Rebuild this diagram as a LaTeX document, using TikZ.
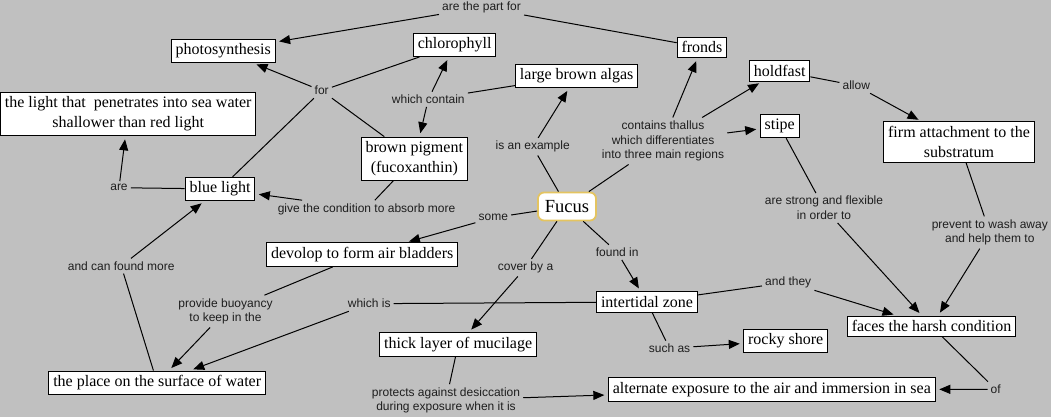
\documentclass[tikz,border=0pt]{standalone}
\usepackage{fontspec}
\setmainfont{Liberation Serif}
\newfontfamily\lblfont{Liberation Sans}
\usetikzlibrary{arrows.meta}
\definecolor{bggray}{RGB}{192,192,192}
\definecolor{lbltext}{RGB}{30,30,30}
\definecolor{fucusgold}{RGB}{228,196,96}
\begin{document}
\begin{tikzpicture}[x=1pt,y=-1pt,
  concept/.style={draw=black, fill=white, line width=1pt, inner xsep=4.4pt, inner ysep=4.4pt,
    font=\fontsize{16}{19.8}\selectfont, align=center},
  fucusbox/.style={draw=fucusgold, fill=white, line width=1.8pt, rounded corners=6pt,
    font=\fontsize{18.5}{22}\selectfont, minimum width=58pt, minimum height=28pt, inner sep=2pt},
  lbl/.style={font=\lblfont\fontsize{12}{14.7}\selectfont, text=lbltext, inner sep=3pt, align=center},
  conn/.style={draw=black, line width=1pt},
  arr/.style={conn, -{Triangle[length=11pt,width=9pt]}, shorten >=3.5pt}]
\fill[bggray] (0,0) rectangle (1051,417);
\useasboundingbox (0,0) rectangle (1051,417);

% concepts
\node[concept] (photo) at (223.2,50.8) {photosynthesis};
\node[concept] (light) at (128.2,113.8) {the light that\ \ penetrates into sea water\\shallower than red light};
\node[concept] (blue) at (220,189) {blue light};
\node[concept] (chloro) at (454.7,44.8) {chlorophyll};
\node[concept] (algas) at (576.7,75.8) {large brown algas};
\node[concept] (pigment) at (414.3,158.7) {brown pigment\\(fucoxanthin)};
\node[concept] (fronds) at (702,47.3) {fronds};
\node[concept] (holdfast) at (779.7,70.9) {holdfast};
\node[concept] (stipe) at (779.7,126.3) {stipe};
\node[concept] (firm) at (959,142) {firm attachment to the\\substratum};
\node[concept] (faces) at (931.5,326.2) {faces the harsh condition};
\node[concept] (rocky) at (785.7,340.7) {rocky shore};
\node[concept] (alt) at (771.8,389.5) {alternate exposure to the air and immersion in sea};
\node[concept] (inter) at (647,302) {intertidal zone};
\node[concept] (mucil) at (458.2,344.5) {thick layer of mucilage};
\node[concept] (place) at (157.2,382.8) {the place on the surface of water};
\node[concept] (devolop) at (362.2,254.7) {devolop to form air bladders};
\node[fucusbox] (fucus) at (567,206.5) {Fucus};

% linking phrases
\node[lbl] (lpart) at (481.5,7.3) {are the part for};
\node[lbl] (lfor) at (321.7,90.7) {for};
\node[lbl] (lare) at (119,187.7) {are};
\node[lbl] (lwhich) at (428.3,99.3) {which contain};
\node[lbl] (lgive) at (366.5,209) {give the condition to absorb more};
\node[lbl] (lexample) at (532.7,146.7) {is an example};
\node[lbl] (lcontains) at (663,141) {contains thallus\\which differentiates\\into three main regions};
\node[lbl] (lallow) at (856.3,85.7) {allow};
\node[lbl] (lstrong) at (824,208) {are strong and flexible\\in order to};
\node[lbl] (lprevent) at (989.8,232.5) {prevent to wash away\\and help them to};
\node[lbl] (landthey) at (788.2,282.3) {and they};
\node[lbl] (lof) at (995.7,389.3) {of};
\node[lbl] (lsuch) at (669.5,348.3) {such as};
\node[lbl] (lfound) at (617.2,252.3) {found in};
\node[lbl] (lcover) at (525.5,267.7) {cover by a};
\node[lbl] (lprotects) at (446,400.3) {protects against desiccation\\during exposure when it is};
\node[lbl] (lwhichis) at (369.2,303.7) {which is};
\node[lbl] (lbuoy) at (225.5,311.3) {provide buoyancy\\to keep in the};
\node[lbl] (lcanfound) at (121.2,266) {and can found more};
\node[lbl] (lsome) at (493.3,217.7) {some};

% connectors
\draw[conn] (blue) -- (lare);
\draw[arr] (lare) -- (light);
\draw[conn] (chloro) -- (lfor);
\draw[conn] (pigment) -- (lfor);
\draw[conn] (blue) -- (lfor);
\draw[arr] (lfor) -- (photo);
\draw[conn] (fronds) -- (lpart);
\draw[arr] (lpart) -- (photo);
\draw[conn] (algas) -- (lwhich);
\draw[arr] (lwhich) -- (chloro);
\draw[arr] (lwhich) -- (pigment);
\draw[conn] (pigment) -- (lgive);
\draw[arr] (lgive) -- (blue);
\draw[conn] (fucus) -- (lexample);
\draw[arr] (lexample) -- (algas);
\draw[conn] (fucus) -- (lcontains);
\draw[arr] (lcontains) -- (fronds);
\draw[arr] (lcontains) -- (holdfast);
\draw[arr] (lcontains) -- (stipe);
\draw[conn] (holdfast) -- (lallow);
\draw[arr] (lallow) -- (firm);
\draw[conn] (stipe) -- (lstrong);
\draw[arr] (lstrong) -- (faces);
\draw[conn] (firm) -- (lprevent);
\draw[arr] (lprevent) -- (faces);
\draw[conn] (inter) -- (landthey);
\draw[arr] (landthey) -- (faces);
\draw[conn] (faces) -- (lof);
\draw[arr] (lof) -- (alt);
\draw[conn] (fucus) -- (lfound);
\draw[arr] (lfound) -- (inter);
\draw[conn] (inter) -- (lsuch);
\draw[arr] (lsuch) -- (rocky);
\draw[conn] (inter) -- (lwhichis);
\draw[arr] (lwhichis) -- (place);
\draw[conn] (devolop) -- (lbuoy);
\draw[arr] (lbuoy) -- (place);
\draw[conn] (place) -- (lcanfound);
\draw[arr] (lcanfound) -- (blue);
\draw[conn] (fucus) -- (lsome);
\draw[arr] (lsome) -- (devolop);
\draw[conn] (fucus) -- (lcover);
\draw[arr] (lcover) -- (mucil);
\draw[conn] (mucil) -- (lprotects);
\draw[arr] (lprotects) -- (alt);
\end{tikzpicture}
\end{document}
